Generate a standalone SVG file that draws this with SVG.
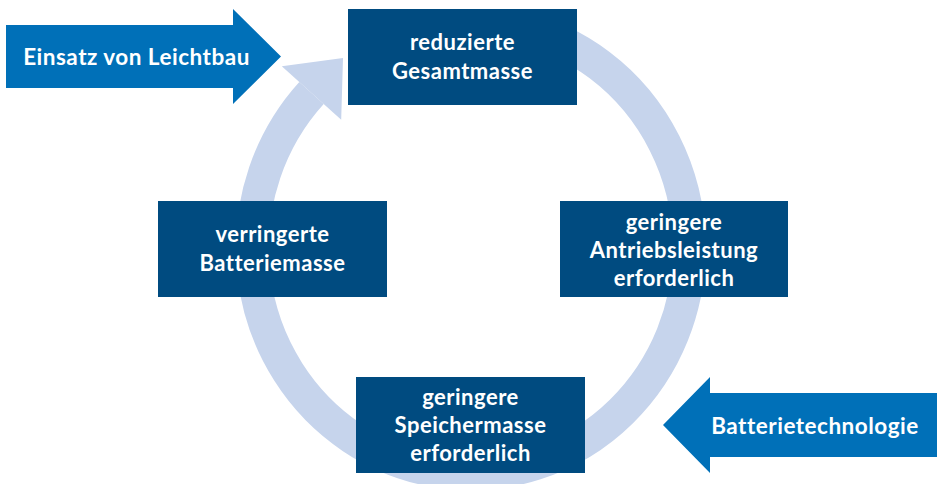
<svg xmlns="http://www.w3.org/2000/svg" width="937" height="484" viewBox="0 0 937 484">
  <style>
    .box { fill: #004B80; }
    .push { fill: #0070B8; }
    .lbl { font-family: Lato, "Open Sans", "Liberation Sans", sans-serif; font-weight: bold; font-size: 22px; letter-spacing: 0.5px; fill: #FFFFFF; text-anchor: middle; }
    .big { font-size: 22.5px; }
    .ring { fill: none; stroke: #C6D4EC; stroke-width: 33; }
    .ringhead { fill: #C6D4EC; }
  </style>
  <rect width="937" height="484" fill="#FFFFFF"/>

  <!-- cycle ring: elliptical arc running clockwise, ending in an arrowhead at the top-left -->
  <g id="connectors">
    <path class="ring" d="M 517.4 26.9 A 218.5 226 0 1 1 311.5 93"/>
    <polygon class="ringhead" points="299.3,81.9 281.8,66.2 343,58.1 341.2,119.8 323.7,104.1"/>
  </g>

  <!-- external influence arrows -->
  <g id="input-leichtbau">
    <polygon class="push" points="6,25 233,25 233,9 281,56.5 233,104 233,88 6,88"/>
    <text class="lbl big" x="136.5" y="65">Einsatz von Leichtbau</text>
  </g>
  <g id="input-batterie">
    <polygon class="push" points="937,393 710,393 710,377 663,425 710,473 710,457 937,457"/>
    <text class="lbl big" x="815" y="434">Batterietechnologie</text>
  </g>

  <!-- cycle steps -->
  <g id="step-gesamtmasse">
    <rect class="box" x="348" y="9" width="229" height="96"/>
    <text class="lbl" x="462.5" y="50">reduzierte</text>
    <text class="lbl" x="462.5" y="79">Gesamtmasse</text>
  </g>
  <g id="step-antrieb">
    <rect class="box" x="560" y="201" width="228" height="96"/>
    <text class="lbl" x="674" y="230">geringere</text>
    <text class="lbl" x="674" y="258">Antriebsleistung</text>
    <text class="lbl" x="674" y="286">erforderlich</text>
  </g>
  <g id="step-speicher">
    <rect class="box" x="356" y="377" width="229" height="96"/>
    <text class="lbl" x="470.5" y="405">geringere</text>
    <text class="lbl" x="470.5" y="433">Speichermasse</text>
    <text class="lbl" x="470.5" y="461">erforderlich</text>
  </g>
  <g id="step-batterie">
    <rect class="box" x="158" y="201" width="229" height="96"/>
    <text class="lbl" x="272.5" y="242">verringerte</text>
    <text class="lbl" x="272.5" y="271">Batteriemasse</text>
  </g>
</svg>
